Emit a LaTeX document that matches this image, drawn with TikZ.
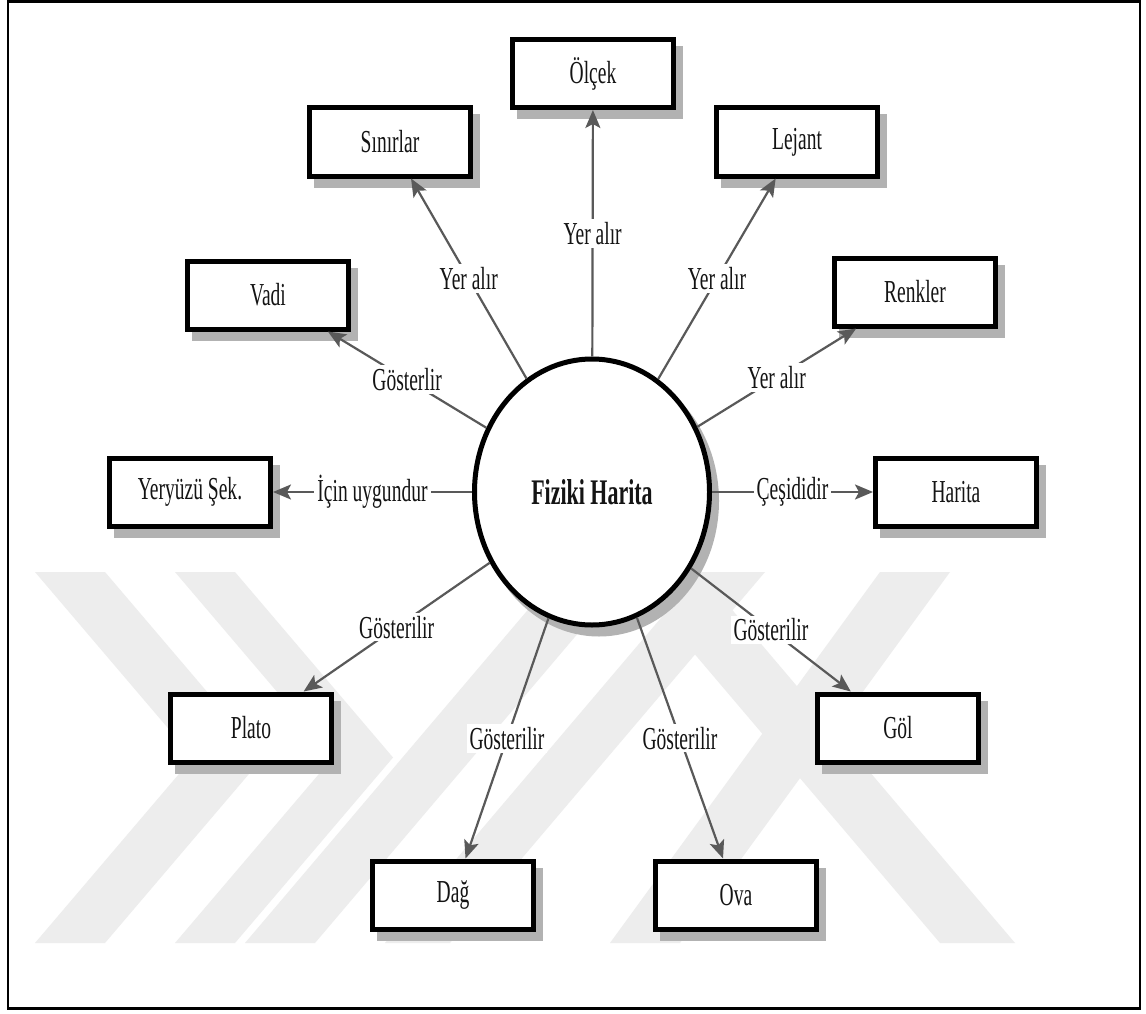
\documentclass[tikz,border=0pt]{standalone}
\usepackage{fontspec}
\setmainfont{Liberation Serif}[FakeStretch=0.61]
\usetikzlibrary{arrows.meta,shadows,shapes.geometric}

\begin{document}
\begin{tikzpicture}[x=1pt,y=-1pt,
  every node/.style={text=black!92, font=\fontsize{32}{36}\selectfont},
  boxshadow/.style={drop shadow={shadow xshift=7pt, shadow yshift=-9pt,
      fill=black!30, draw=black!30, line width=5pt, opacity=1}},
  concept/.style={draw=black, line width=5pt, fill=white,
      minimum width=161pt, minimum height=68pt, inner sep=0pt, boxshadow},
  hub/.style={ellipse, draw=black, line width=5pt, fill=white,
      minimum width=235pt, minimum height=266pt, inner sep=0pt, boxshadow,
      font=\bfseries\fontsize{36}{40}\selectfont},
  link/.style={draw=black!65, line width=2.2pt,
      -{Stealth[length=18pt,width=15pt,inset=4pt]}},
  tag/.style={fill=white, inner sep=3pt, midway},
  wm/.style={fill=black!7}
]
% canvas and frame
\useasboundingbox (0,0) rectangle (1146,1014);
\fill[white] (0,0) rectangle (1146,1014);

% faint background emblem
\fill[wm] (35,572) -- (105,572) -- (263,757.5) -- (105,943) -- (35,943) -- (193,757.5) -- cycle;
\fill[wm] (175,572) -- (235,572) -- (393,757.5) -- (235,943) -- (175,943) -- (333,757.5) -- cycle;
\fill[wm] (560,572) -- (630,572) -- (315,943) -- (245,943) -- cycle;
\fill[wm] (700,572) -- (765,572) -- (450,943) -- (385,943) -- cycle;
\fill[wm] (625,572) -- (700,572) -- (1015,943) -- (940,943) -- cycle;
\fill[wm] (880,572) -- (950,572) -- (680,943) -- (610,943) -- cycle;

\draw[line width=2.5pt] (8,1.5) rectangle (1140,1008.5);

% central concept
\node[hub] (fh) at (592,492) {Fiziki Harita};

% surrounding concepts
\node[concept] (olcek)   at (593,73.5) {Ölçek};
\node[concept] (sinir)   at (390,142)  {Sınırlar};
\node[concept] (lejant)  at (797,142)  {Lejant};
\node[concept] (vadi)    at (268,295)  {Vadi};
\node[concept] (renk)    at (915,292)  {Renkler};
\node[concept] (yer)     at (190,492)  {Yeryüzü Şek.};
\node[concept] (harita)  at (956,492)  {Harita};
\node[concept] (plato)   at (251,728)  {Plato};
\node[concept] (gol)     at (898,728)  {Göl};
\node[concept] (dag)     at (453,895)  {Dağ};
\node[concept] (ova)     at (736,895)  {Ova};

% relations
\draw[link] (fh) -- (olcek)  node[tag] {Yer alır};
\draw[link] (fh) -- (sinir)  node[tag] {Yer alır};
\draw[link] (fh) -- (lejant) node[tag] {Yer alır};
\draw[link] (fh) -- (renk)   node[tag] {Yer alır};
\draw[link] (fh) -- (vadi)   node[tag] {Gösterlir};
\draw[link] (fh) -- (yer)    node[tag] {İçin uygundur};
\draw[link] (fh) -- (harita) node[tag] {Çeşididir};
\draw[link] (fh) -- (plato)  node[tag] {Gösterilir};
\draw[link] (fh) -- (gol)    node[tag] {Gösterilir};
\draw[link] (fh) -- (dag)    node[tag] {Gösterilir};
\draw[link] (fh) -- (ova)    node[tag] {Gösterilir};
\end{tikzpicture}
\end{document}
